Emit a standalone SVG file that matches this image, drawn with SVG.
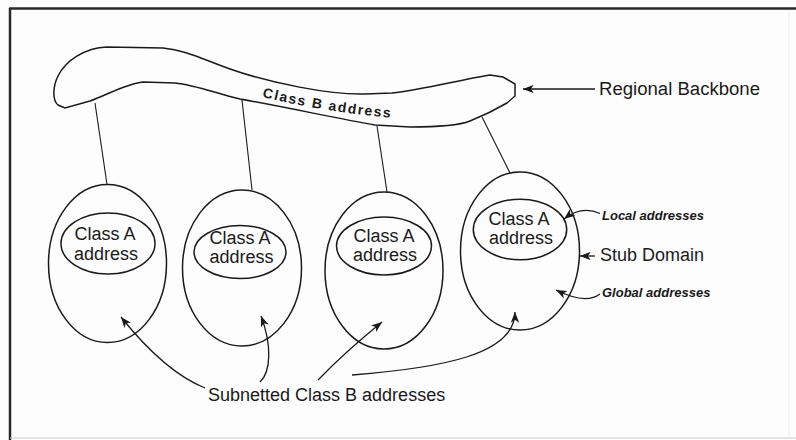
<svg xmlns="http://www.w3.org/2000/svg" width="796" height="440" viewBox="0 0 796 440">
  <defs>
    <marker id="arrow" markerUnits="userSpaceOnUse" markerWidth="12" markerHeight="10" refX="9" refY="0" viewBox="0 -4 10 8" orient="auto">
      <path d="M0,-3.5 L9,0 L0,3.5 L2.5,0 Z" fill="#1a1a1a"/>
    </marker>
    <style>
      .shape { fill: none; stroke: #1a1a1a; stroke-width: 1.5; }
      .link { fill: none; stroke: #1a1a1a; stroke-width: 1.1; }
      .pointer { fill: none; stroke: #1a1a1a; stroke-width: 1.3; marker-end: url(#arrow); }
      .lbl { font-family: "Liberation Sans", Arial, sans-serif; font-size: 18px; fill: #1a1a1a; }
      .mid { text-anchor: middle; }
      .note { font-family: "Liberation Sans", Arial, sans-serif; font-size: 13px; font-weight: bold; font-style: italic; fill: #1a1a1a; }
    </style>
  </defs>

  <!-- page background and frame -->
  <rect x="0" y="0" width="796" height="440" fill="#fdfdfd"/>
  <line x1="9" y1="8.5" x2="796" y2="8.5" stroke="#2a2a2a" stroke-width="2.5"/>
  <line x1="10" y1="8" x2="10" y2="440" stroke="#2a2a2a" stroke-width="2.5"/>
  <line x1="10" y1="438" x2="796" y2="438" stroke="#c8c8c8" stroke-width="1"/>
  <line x1="789" y1="10" x2="789" y2="438" stroke="#eeeeee" stroke-width="1"/>

  <!-- connectors: backbone to stub domains, and label pointers -->
  <g id="connectors">
    <line class="link" x1="95" y1="103" x2="107" y2="184.5"/>
    <line class="link" x1="242" y1="100" x2="252" y2="190"/>
    <line class="link" x1="377" y1="126" x2="387" y2="192"/>
    <line class="link" x1="482" y1="117" x2="510" y2="173"/>

    <path class="pointer" d="M595,89 L523,89"/>
    <path class="pointer" d="M600,213.5 C590,209 578,208 564,219"/>
    <path class="pointer" d="M595,256 L580,256"/>
    <path class="pointer" d="M600,294 C592,300 580,302 556,290"/>

    <path class="pointer" d="M205,388 Q165,372 121,317"/>
    <path class="pointer" d="M260,382 C271,372 272,345 261,316"/>
    <path class="pointer" d="M318,380 Q345,352 382,322"/>
    <path class="pointer" d="M352,375 C440,368 515,355 515,312"/>
  </g>

  <!-- regional backbone -->
  <g id="backbone">
    <path class="shape" d="M58,105 C52,100 53,86 58,76 C66,60 85,48 107,47 L163,48 C185,50 200,58 230,69 C270,83 330,95 365,94 L392,93 C420,90 460,80 490,75 L503,77 L515,84 L515,96 L507,103 C495,110 485,115 470,121 C460,125 440,127 410,127 L375,125 C340,119 290,108 240,99 C215,93 195,85 175,83 L143,82 C125,84 105,96 90,101 L65,108 Z"/>
    <path id="bbCurve" d="M262,97 Q330,113 394,118" fill="none"/>
    <text font-family="'Liberation Sans', Arial, sans-serif" font-size="14" font-weight="bold" letter-spacing="1.5" fill="#1a1a1a">
      <textPath href="#bbCurve">Class B address</textPath>
    </text>
  </g>

  <!-- stub domains -->
  <g id="domain1">
    <ellipse class="shape" cx="107.5" cy="263.5" rx="59" ry="79"/>
    <ellipse class="shape" cx="108" cy="243.5" rx="47" ry="30.5"/>
    <text class="lbl mid" x="105" y="240">Class A</text>
    <text class="lbl mid" x="106" y="259.5">address</text>
  </g>
  <g id="domain2">
    <ellipse class="shape" cx="242" cy="268" rx="59.5" ry="78"/>
    <ellipse class="shape" cx="240" cy="252" rx="46" ry="26.5"/>
    <text class="lbl mid" x="240" y="244">Class A</text>
    <text class="lbl mid" x="241.5" y="262.5">address</text>
  </g>
  <g id="domain3">
    <ellipse class="shape" cx="384" cy="270.5" rx="59" ry="78.5"/>
    <ellipse class="shape" cx="384" cy="246" rx="47.5" ry="29"/>
    <text class="lbl mid" x="384" y="242">Class A</text>
    <text class="lbl mid" x="385" y="260.5">address</text>
  </g>
  <g id="domain4">
    <ellipse class="shape" cx="520" cy="251" rx="59.5" ry="79"/>
    <ellipse class="shape" cx="520" cy="229.5" rx="46.7" ry="30.3"/>
    <text class="lbl mid" x="519" y="225">Class A</text>
    <text class="lbl mid" x="521" y="243.5">address</text>
  </g>

  <!-- side and bottom labels -->
  <g id="label-backbone">
    <text class="lbl" x="599" y="94.5" textLength="161" lengthAdjust="spacingAndGlyphs">Regional Backbone</text>
  </g>
  <g id="label-local">
    <text class="note" x="602" y="220">Local addresses</text>
  </g>
  <g id="label-stub">
    <text class="lbl" x="600" y="260.5">Stub Domain</text>
  </g>
  <g id="label-global">
    <text class="note" x="602" y="297">Global addresses</text>
  </g>
  <g id="label-subnets">
    <text class="lbl" x="208" y="400.5">Subnetted Class B addresses</text>
  </g>
</svg>
